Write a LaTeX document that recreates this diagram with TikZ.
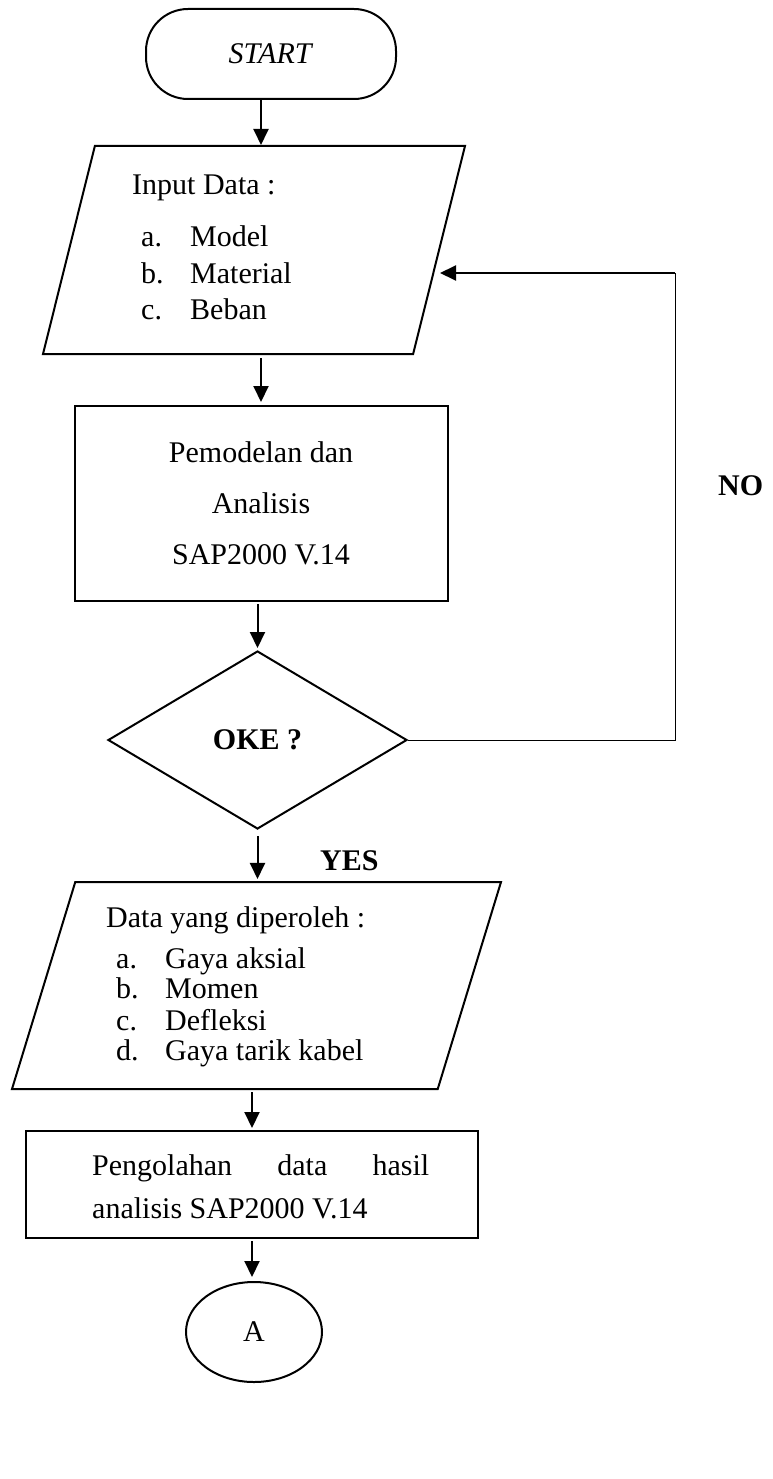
\documentclass[tikz,border=0pt]{standalone}
\usepackage{fontspec}
\setmainfont{Liberation Serif}
\usetikzlibrary{shapes.geometric, arrows.meta}
\tikzstyle{arrow} = [line width=2pt,-{Triangle[length=16pt,width=15pt]}]
\tikzstyle{terminal} = [draw, line width=2pt, rounded corners=42pt, minimum width=250pt, minimum height=90pt, inner sep=0pt]
\tikzstyle{inout} = [draw, line width=2pt, trapezium, trapezium stretches body, inner xsep=0pt, text height=0pt, text depth=0pt]
\tikzstyle{process} = [draw, line width=2pt, rectangle, inner sep=0pt]
\tikzstyle{decision} = [draw, line width=2pt, diamond, minimum width=299pt, minimum height=178pt, inner sep=0pt]
\tikzstyle{connector} = [draw, line width=2pt, ellipse, minimum width=136pt, minimum height=100pt, inner sep=0pt]
\tikzstyle{txt} = [anchor=base west, inner sep=0pt]
\newcommand{\listrow}[2]{\makebox[49pt][l]{#1}#2}

\begin{document}
\begin{tikzpicture}[x=1pt, y=-1pt, font=\fontsize{30}{36}\selectfont]
\useasboundingbox (0,0) rectangle (772,1479);

% Flow boxes
\node[terminal] (start) at (271,54) {\textit{START}};
\node[inout, trapezium left angle=76, trapezium right angle=104, inner ysep=104pt, minimum width=422pt] (input) at (254,250) {};
\node[process, minimum width=373pt, minimum height=195pt, align=center] (analisis) at (261,503.5) {Pemodelan dan\\[15pt]Analisis\\[15pt]SAP2000 V.14};
\node[decision] (oke) at (257.5,740) {\bfseries OKE ?};
\node[inout, trapezium left angle=73, trapezium right angle=107, inner ysep=103.5pt, minimum width=489pt] (output) at (256.5,985.5) {};
\node[process, minimum width=452pt, minimum height=107pt] (olah) at (252,1184.5) {};
\node[connector] (conA) at (254,1332) {A};

% Text of the input box
\node[txt] (inhead) at (132,195) {Input Data :};
\node[txt] (inmodel) at (141,247) {\listrow{a.}{Model}};
\node[txt] (inmaterial) at (141,283) {\listrow{b.}{Material}};
\node[txt] (inbeban) at (141,319) {\listrow{c.}{Beban}};

% Text of the output box
\node[txt] (outhead) at (106,927) {Data yang diperoleh :};
\node[txt] (outaksial) at (116,968) {\listrow{a.}{Gaya aksial}};
\node[txt] (outmomen) at (116,998) {\listrow{b.}{Momen}};
\node[txt] (outdefleksi) at (116,1030) {\listrow{c.}{Defleksi}};
\node[txt] (outkabel) at (116,1060) {\listrow{d.}{Gaya tarik kabel}};

% Text of the last process
\node[txt] (olahone) at (92,1175) {\makebox[337pt][s]{Pengolahan data hasil}};
\node[txt] (olahtwo) at (92,1218) {analisis SAP2000 V.14};

% Branch labels
\node[txt] (nolabel) at (718,495) {\bfseries NO};
\node[txt] (yeslabel) at (320,870) {\bfseries YES};

% Main arrows
\draw[arrow] (start.south -| analisis.north) -- (input.north -| analisis.north);
\draw[arrow, shorten <=3pt, shorten >=3pt] (input.south -| analisis.north) -- (analisis.north);
\draw[arrow, shorten <=2pt, shorten >=2pt] (analisis.south -| oke.north) -- (oke.north);
\draw[arrow, shorten <=6pt, shorten >=2pt] (oke.south) -- (output.north -| oke.south);
\draw[arrow, shorten <=2pt, shorten >=2pt] (output.south -| olah.north) -- (olah.north);
\draw[arrow, shorten <=2pt, shorten >=4pt] (olah.south) -- (conA.north -| olah.south);

% NO loop back to input
\coordinate (noturn) at (675,740);
\coordinate (noup) at (675,273);
\coordinate (backin) at (440,273);
\draw[line width=1pt] (oke.east) -- (noturn) -- (noup);
\draw[arrow] (noup) -- (backin);

\end{tikzpicture}
\end{document}
